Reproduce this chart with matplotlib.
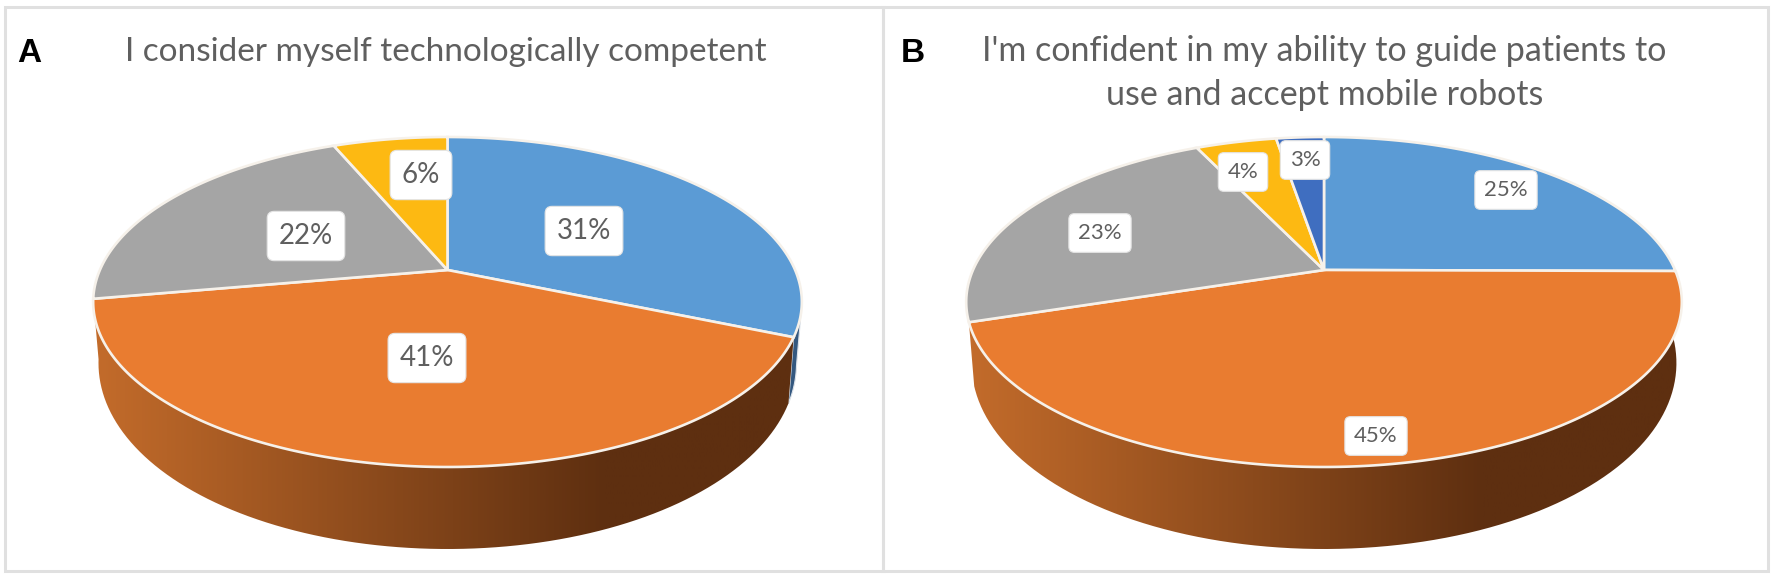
import numpy as np
import matplotlib
matplotlib.use("Agg")
import matplotlib.pyplot as plt
from matplotlib.patches import Rectangle, PathPatch
from matplotlib.path import Path
from matplotlib.transforms import Affine2D, Transform
from matplotlib.colors import LinearSegmentedColormap

# ---- data ----
categories_a = ["s1", "s2", "s3", "s4"]
values_a = [31.4, 40.8, 21.5, 6.3]
categories_b = ["s1", "s2", "s3", "s4", "s5"]
values_b = [25.1, 44.9, 23.0, 4.4, 2.6]
title_a = "I consider myself technologically competent"
title_b_1 = "I'm confident in my ability to guide patients to"
title_b_2 = "use and accept mobile robots"

# ---- style ----
colors = ["#5B9BD5", "#E97C30", "#A5A5A5", "#FDB912", "#3F6EC0"]
TEXT = "#5f5f5f"
W, H = 1772, 581
UP, DOWN = 133.0, 197.0
K = (DOWN - UP) / (DOWN + UP)
A = UP * (1 + K)
side_cmap = LinearSegmentedColormap.from_list(
    "side", [(0, "#C46C2B"), (0.72, "#5E2F10"), (1, "#5E2F10")])


def persp(u, v, b):
    w = 1 + K * v
    return b * u / w, A * v / w


class Persp(Transform):
    input_dims = 2
    output_dims = 2
    is_separable = False

    def __init__(self, b):
        super().__init__()
        self.b = b

    def transform_non_affine(self, xy):
        xy = np.asarray(xy, float)
        x, y = persp(xy[:, 0], xy[:, 1], self.b)
        return np.column_stack([x, y])

    def transform_path_non_affine(self, path):
        s = 4000.0
        polys = path.to_polygons(transform=Affine2D().scale(s), closed_only=False)
        return Path(self.transform_non_affine(polys[0] / s), closed=True)


def wall_outline(th1, th2, b):
    th = np.radians(np.linspace(th1, th2, 300))
    u, v = np.cos(th), np.sin(th)
    xt, yt = persp(u, v, b)
    depth = 56 - 26 * v
    xb, yb = xt * 0.985, yt - depth
    return np.column_stack([np.r_[xt, xb[::-1]], np.r_[yt, yb[::-1]]])


def panel(x0, x1, y0, y1, cx, cy, b, values, labels_px, fs, pad):
    ax = fig.add_axes([x0 / W, 1 - y1 / H, (x1 - x0) / W, (y1 - y0) / H])
    wedges, _ = ax.pie(values, colors=colors[:len(values)], startangle=90,
                       counterclock=False,
                       wedgeprops=dict(edgecolor="#F6F1EA", linewidth=1.9))
    tr = Persp(b) + ax.transData
    for w in wedges:
        w.set_transform(tr)
        w.set_clip_on(False)
        w.set_zorder(3)
    # side wall of the orange slice, shaded from left to right
    outline = wall_outline(wedges[1].theta1, wedges[1].theta2, b)
    img = ax.imshow(np.linspace(0, 1, 512)[None, :], cmap=side_cmap, aspect="auto",
                    extent=(-b * 1.03, b * 1.03, -DOWN - 100, UP), zorder=1)
    clip = PathPatch(Path(outline, closed=False), transform=ax.transData, fc="none", ec="none")
    ax.add_patch(clip)
    img.set_clip_path(clip)
    ax.set_aspect("auto")
    ax.set_xlim(x0 - cx, x1 - cx)
    ax.set_ylim(cy - y1, cy - y0)
    ax.axis("off")
    for lab, (lx, ly) in zip(values, labels_px):
        ax.text(lx - cx, cy - ly, f"{round(lab)}%", ha="center", va="center", fontsize=fs,
                color=TEXT, family="Lato", zorder=5,
                bbox=dict(boxstyle=f"round,pad={pad},rounding_size=0.25",
                          fc="white", ec="#E4E4E4", lw=0.8))
    return ax, wedges


fig = plt.figure(figsize=(W / 100, H / 100), dpi=100, facecolor="white")

# panel frames
for (x, y, w, h) in [(5, 7, 878, 564), (883, 7, 885, 564)]:
    fig.add_artist(Rectangle((x / W, 1 - (y + h) / H), w / W, h / H, transform=fig.transFigure,
                             fc="none", ec="#E0E0E0", lw=2.2))

BA = 347.6
ax_a, wa = panel(6, 882, 8, 570, 447.5, 270, BA, values_a,
                 [(584, 231), (427, 358), (306, 236), (421, 175)], 20, 0.42)
# thin sliver of the blue slice's side, at the right edge
ax_a.fill(*wall_outline(wa[0].theta1 + 11, wa[0].theta1, BA).T, color="#34587F",
          lw=0.8, ec="#DDE3EA", zorder=0.5)

ax_b, wb = panel(884, 1767, 8, 570, 1324, 270, 351.0, values_b,
                 [(1506, 190), (1376, 436), (1100, 233), (1243, 172), (1305, 160)], 16, 0.42)


def ftext(x, y, s, **kw):
    fig.text(x / W, 1 - y / H, s, **kw)


ftext(17, 62, "A", fontsize=24, fontweight="bold", family="Liberation Sans", color="black")
ftext(901, 62, "B", fontsize=24, fontweight="bold", family="Liberation Sans", color="black")
tkw = dict(ha="center", va="baseline", color=TEXT, family="Lato")
ftext(446, 61, title_a, fontsize=24, **tkw)
ftext(1324, 61, title_b_1, fontsize=24.5, **tkw)
ftext(1325, 105, title_b_2, fontsize=24.5, **tkw)

fig.savefig("out.png", dpi=100, facecolor="white")
